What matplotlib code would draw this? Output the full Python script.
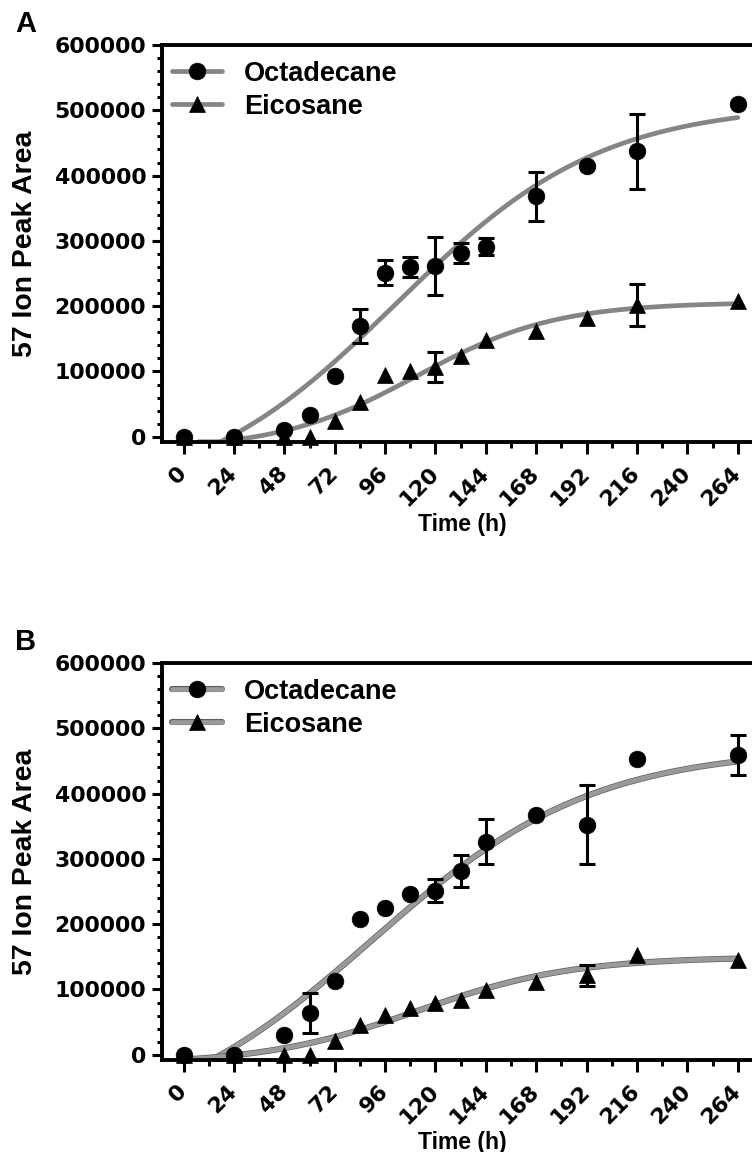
import numpy as np
import matplotlib
matplotlib.use("Agg")
import matplotlib.pyplot as plt
from matplotlib.ticker import MultipleLocator, FixedLocator
from matplotlib.lines import Line2D
from matplotlib.legend_handler import HandlerTuple
import matplotlib.patheffects as pe

# ---- data -------------------------------------------------------------
hours = [0, 24, 48, 60, 72, 84, 96, 108, 120, 132, 144, 168, 192, 216, 264]

# Panel A
a_octadecane = [0, 0, 10000, 34000, 92500, 170000, 251500, 260000, 261500,
                281000, 291000, 368000, 414000, 437500, 509000]
a_octadecane_sem = [0, 0, 0, 0, 0, 26000, 19500, 16000, 44500,
                    15000, 13000, 37000, 0, 57500, 0]
a_eicosane = [0, 0, 0, 0, 23500, 54000, 94000, 100500, 106500,
              123500, 148000, 162000, 182500, 202000, 208000]
a_eicosane_sem = [0, 0, 0, 0, 0, 0, 0, 0, 23000,
                  0, 0, 0, 0, 32000, 0]

# Panel B
b_octadecane = [0, 0, 30700, 64000, 112600, 208300, 224300, 246700, 251400,
                281500, 326500, 367100, 352600, 453100, 459500]
b_octadecane_sem = [0, 0, 0, 30700, 0, 0, 0, 0, 17500,
                    24100, 34500, 0, 60600, 0, 30500]
b_eicosane = [0, 0, 0, 0, 21500, 46100, 61400, 71600, 79300,
              84500, 99800, 111100, 121500, 152500, 145900]
b_eicosane_sem = [0, 0, 0, 0, 0, 0, 0, 0, 0,
                  0, 0, 0, 16600, 0, 0]

# sigmoidal (Boltzmann) fit parameters: bottom, top, t50, slope
a_octadecane_fit = [-100000, 510000, 101.6, 48.8]
a_eicosane_fit = [-20000, 206000, 111.0, 33.0]
b_octadecane_fit = [-120000, 470000, 89.6, 52.6]
b_eicosane_fit = [-15000, 150000, 111.6, 37.0]

series_names = ["Octadecane", "Eicosane"]
x_ticks = [0, 24, 48, 72, 96, 120, 144, 168, 192, 216, 240, 264]
y_ticks = [0, 100000, 200000, 300000, 400000, 500000, 600000]


def boltzmann(t, bottom, top, t50, slope):
    return bottom + (top - bottom) / (1.0 + np.exp((t50 - t) / slope))


# ---- figure -----------------------------------------------------------
W, H = 752, 1152
fig = plt.figure(figsize=(W / 100, H / 100), dpi=100)

LABEL_FONT = "Liberation Sans"
TICK_FONT = "DejaVu Sans"

XMIN, XMAX = -10.5, 276
YMIN, YMAX = -8000, 600000


def px_axes(left, right, top, bottom):
    return fig.add_axes([left / W, 1 - bottom / H, (right - left) / W,
                         (bottom - top) / H])


def draw_panel(ax, letter, letter_y, octa, octa_sem, eico, eico_sem,
               octa_fit, eico_fit, curve_start, outlined):
    ax.set_xlim(XMIN, XMAX)
    ax.set_ylim(YMIN, YMAX)

    t = np.linspace(curve_start, hours[-1], 400)
    curve_kw = dict(lw=3.4, solid_capstyle="round", zorder=2)
    if outlined:
        curve_kw.update(color="#9a9a9a",
                        path_effects=[pe.Stroke(linewidth=4.4, foreground="#5e5e5e"),
                                      pe.Normal()])
    else:
        curve_kw.update(color="#858585")
    for fit in (octa_fit, eico_fit):
        yfit = np.maximum(boltzmann(t, *fit), YMIN)
        ax.plot(t, yfit, **curve_kw)

    h = np.array(hours, dtype=float)
    for vals, sem, marker, ms in ((octa, octa_sem, "o", 12.0),
                                  (eico, eico_sem, "^", 11.0)):
        vals = np.array(vals, dtype=float)
        sem = np.array(sem, dtype=float)
        m = sem > 0
        ax.errorbar(h[m], vals[m], yerr=sem[m], fmt="none", ecolor="black",
                    elinewidth=2.2, capsize=6, capthick=2.2, zorder=3)
        ax.plot(h, vals, linestyle="none", marker=marker, ms=ms, color="black",
                mec="black", mew=0.5, zorder=4, clip_on=False)

    # legend: gray fit line with the black symbol on top
    handles = []
    for marker, ms in (("o", 12.0), ("^", 11.0)):
        line_kw = dict(color=curve_kw["color"], lw=3.4,
                       solid_capstyle="round")
        if outlined:
            line_kw["path_effects"] = curve_kw["path_effects"]
        line = Line2D([], [], **line_kw)
        sym = Line2D([], [], linestyle="none", marker=marker, ms=ms,
                     mfc="black", mec="black", mew=0.5)
        handles.append((line, sym))
    ax.legend(handles, series_names, loc="upper left", frameon=False,
              bbox_to_anchor=(0.0, 1.0 - 5.0 / 397), borderaxespad=0.0,
              handlelength=1.85, handletextpad=0.8, labelspacing=0.25,
              handler_map={tuple: HandlerTuple(ndivide=1, pad=0)},
              prop=dict(family=LABEL_FONT, weight="bold", size=19.5))

    # spines and ticks
    for side in ("left", "bottom", "top"):
        ax.spines[side].set_linewidth(2.8)
    ax.spines["right"].set_visible(False)
    ax.xaxis.set_major_locator(FixedLocator(x_ticks))
    ax.xaxis.set_minor_locator(MultipleLocator(12))
    ax.yaxis.set_major_locator(FixedLocator(y_ticks))
    ax.yaxis.set_minor_locator(MultipleLocator(20000))
    ax.tick_params(axis="x", which="major", direction="out", length=8.5,
                   width=2.2, pad=12)
    ax.tick_params(axis="x", which="minor", direction="out", length=4,
                   width=2.2)
    ax.tick_params(axis="y", which="major", direction="out", length=7,
                   width=2.2, pad=4)
    ax.tick_params(axis="y", which="minor", direction="out", length=3.6,
                   width=2.2)
    ax.set_xticklabels([str(v) for v in x_ticks], rotation=45, ha="right",
                       va="center", rotation_mode="anchor",
                       family=TICK_FONT, weight="bold", size=15.8)
    ax.set_yticklabels([str(v) for v in y_ticks], family=TICK_FONT,
                       weight="bold", size=15.8)

    ax.set_xlabel("Time (h)", family=LABEL_FONT, weight="bold", size=16.5,
                  labelpad=2)
    ax.set_ylabel("57 Ion Peak Area", family=LABEL_FONT, weight="bold",
                  size=20.4, labelpad=12)
    fig.text(15 / W, 1 - letter_y / H, letter, family=LABEL_FONT,
             weight="bold", size=21, ha="left", va="center")


ax_a = px_axes(161.5, 763, 45, 442)
draw_panel(ax_a, "A", 24, a_octadecane, a_octadecane_sem, a_eicosane,
           a_eicosane_sem, a_octadecane_fit, a_eicosane_fit, 7, False)

ax_b = px_axes(161.5, 763, 663, 1060)
draw_panel(ax_b, "B", 642, b_octadecane, b_octadecane_sem, b_eicosane,
           b_eicosane_sem, b_octadecane_fit, b_eicosane_fit, 0, True)

fig.savefig("out.png", dpi=100)
